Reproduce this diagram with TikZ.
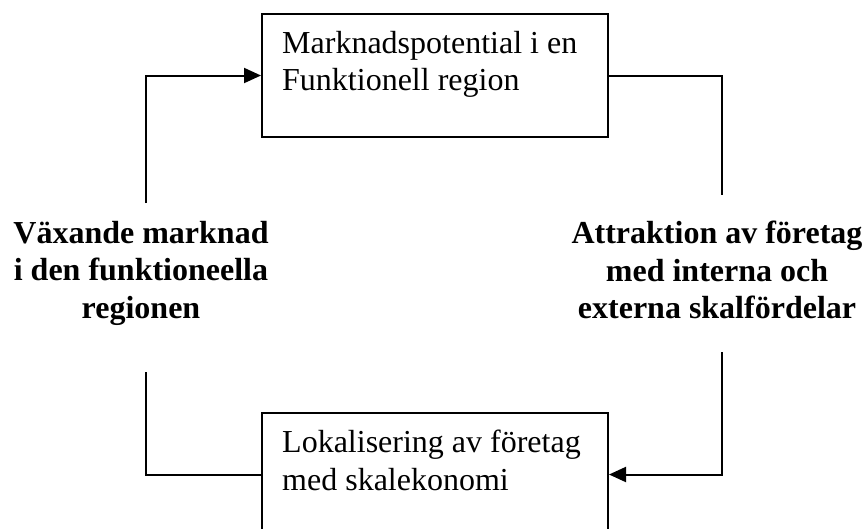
\documentclass[tikz,border=0pt]{standalone}
\usepackage{fontspec}
\setmainfont{Liberation Serif}
\usetikzlibrary{arrows.meta}
\tikzset{
  panel/.style={draw, line width=2pt, minimum width=346pt, minimum height=123pt,
                anchor=north west, inner sep=0pt},
  paneltext/.style={anchor=north west, align=left, inner sep=0pt,
                    font=\fontsize{32}{37.5}\selectfont},
  sidelabel/.style={anchor=north, align=center, inner sep=0pt,
                    font=\fontsize{32}{37.5}\selectfont\bfseries},
  flow/.style={line width=2pt},
  flowarrow/.style={flow, -{Triangle[length=17pt,width=15pt]}}
}
\begin{document}
\begin{tikzpicture}[x=1pt,y=-1pt]
  \useasboundingbox (0,0) rectangle (866,528);
  \clip (0,0) rectangle (866,528);

  % boxes of the cycle
  \node[panel] (top) at (261,13) {};
  \node[paneltext] (toptext) at (282,31) {Marknadspotential i en\\Funktionell region};
  \node[panel] (bot) at (261,412) {};
  \node[paneltext] (bottext) at (282,430) {Lokalisering av företag\\med skalekonomi};

  % labels on the two sides
  \node[sidelabel] (left) at (141,221) {Växande marknad\\i den funktioneella\\regionen};
  \node[sidelabel] (right) at (717,221) {Attraktion av företag\\med interna och\\externa skalfördelar};

  % loose ends of the connectors next to the labels
  \coordinate (lt) at (146,203);
  \coordinate (lb) at (146,372);
  \coordinate (rt) at (722,195);
  \coordinate (rb) at (722,352);

  \draw[flow] (top.east) -| (rt);
  \draw[flowarrow] (rb) |- (bot.east);
  \draw[flow] (lb) |- (bot.west);
  \draw[flowarrow] (lt) |- (top.west);
\end{tikzpicture}
\end{document}
